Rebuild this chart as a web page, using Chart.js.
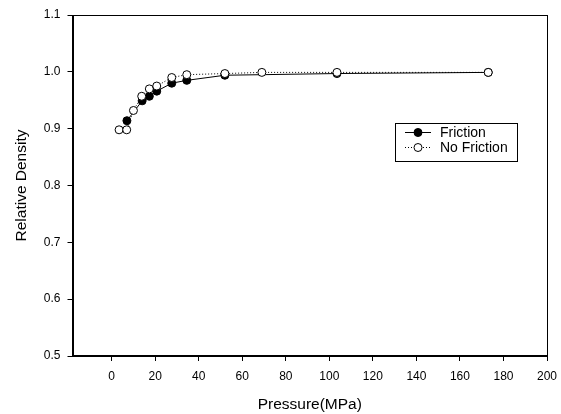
<!DOCTYPE html>
<html>
<head>
<meta charset="utf-8">
<script src="https://cdn.jsdelivr.net/npm/chart.js@4.4.1/dist/chart.umd.min.js"></script>
<style>
  html, body { margin: 0; padding: 0; background: #fff; }
</style>
</head>
<body>
<canvas id="densityChart" width="561" height="414"></canvas>
<script>
// values
const frictionPressure = [7, 14, 17.3, 20.7, 27.6, 34.5, 52, 103.5, 173];
const frictionDensity = [0.914, 0.949, 0.957, 0.966, 0.980, 0.985, 0.994, 0.997, 0.999];
const noFrictionPressure = [3.4, 6.9, 10, 13.8, 17.3, 20.7, 27.6, 34.5, 52, 69, 103.5, 173];
const noFrictionDensity = [0.898, 0.898, 0.932, 0.957, 0.970, 0.975, 0.990, 0.995, 0.997, 0.999, 0.999, 0.999];
const xTicks = [0, 20, 40, 60, 80, 100, 120, 140, 160, 180, 200];
const yTicks = [0.5, 0.6, 0.7, 0.8, 0.9, 1.0, 1.1];

const toPoints = (xs, ys) => xs.map((x, i) => ({ x: x, y: ys[i] }));

const FONT = 'Arial, "Liberation Sans", sans-serif';

// box round the plot area
const frame = {
    id: 'frame',
    afterDraw(chart) {
        const { ctx, chartArea: a } = chart;
        ctx.save();
        ctx.strokeStyle = '#000';
        ctx.lineWidth = 1;
        ctx.strokeRect(Math.round(a.left) + 0.5, Math.round(a.top) + 0.5,
            Math.round(a.right - a.left) - 1, Math.round(a.bottom - a.top) - 1);
        ctx.restore();
    }
};

// legend drawn inside the plot, like the original
const insideLegend = {
    id: 'insideLegend',
    afterDraw(chart) {
        const ctx = chart.ctx;
        const bx = 395, by = 123, bw = 122, bh = 38;
        ctx.save();
        ctx.fillStyle = '#fff';
        ctx.fillRect(bx, by, bw, bh);
        ctx.strokeStyle = '#000';
        ctx.lineWidth = 1;
        ctx.strokeRect(bx + 0.5, by + 0.5, bw, bh);
        chart.data.datasets.forEach((ds, i) => {
            const cy = by + 9 + i * 15;
            ctx.strokeStyle = '#000';
            ctx.setLineDash(ds.borderDash || []);
            ctx.beginPath();
            ctx.moveTo(405, cy + 0.5);
            ctx.lineTo(431, cy + 0.5);
            ctx.stroke();
            ctx.setLineDash([]);
            ctx.beginPath();
            ctx.arc(418, cy + 0.5, 4, 0, Math.PI * 2);
            ctx.fillStyle = ds.pointBackgroundColor;
            ctx.fill();
            ctx.stroke();
            ctx.fillStyle = '#000';
            ctx.font = '14px ' + FONT;
            ctx.textBaseline = 'middle';
            ctx.fillText(ds.label, 440, cy + 1);
        });
        ctx.restore();
    }
};

const ctx = document.getElementById('densityChart').getContext('2d');

const densityChart = new Chart(ctx, {
    type: 'scatter',
    data: {
        datasets: [{
            label: 'Friction',
            data: toPoints(frictionPressure, frictionDensity),
            showLine: true,
            borderColor: '#000',
            borderWidth: 1,
            pointBackgroundColor: '#000',
            pointBorderColor: '#000',
            pointBorderWidth: 1,
            pointRadius: 4,
            order: 2
        }, {
            label: 'No Friction',
            data: toPoints(noFrictionPressure, noFrictionDensity),
            showLine: true,
            borderColor: '#000',
            borderWidth: 1,
            borderDash: [1, 2],
            pointBackgroundColor: '#fff',
            pointBorderColor: '#000',
            pointBorderWidth: 1,
            pointRadius: 4,
            order: 1
        }]
    },
    options: {
        responsive: false,
        animation: false,
        layout: { padding: { top: 15, right: 14, left: 0, bottom: 0 } },
        plugins: {
            legend: { display: false },
            tooltip: { enabled: false }
        },
        scales: {
            x: {
                type: 'linear',
                min: -18,
                max: 200,
                afterBuildTicks: (scale) => { scale.ticks = xTicks.map(v => ({ value: v })); },
                afterFit: (scale) => {
                    scale.height = 58;
                    scale.paddingLeft = 0;
                    scale.paddingRight = 0;
                },
                grid: { drawOnChartArea: false, tickLength: 5, color: '#000' },
                border: { color: '#000' },
                ticks: {
                    color: '#000',
                    padding: 8,
                    maxRotation: 0,
                    autoSkip: false,
                    font: { family: FONT, size: 12 }
                },
                title: {
                    display: true,
                    text: 'Pressure(MPa)',
                    color: '#000',
                    padding: { top: 0, bottom: 0 },
                    font: { family: FONT, size: 15.5 }
                }
            },
            y: {
                min: 0.5,
                max: 1.1,
                afterBuildTicks: (scale) => { scale.ticks = yTicks.map(v => ({ value: v })); },
                afterFit: (scale) => {
                    scale.width = 72.5;
                    scale.paddingTop = 0;
                    scale.paddingBottom = 0;
                },
                grid: { drawOnChartArea: false, tickLength: 5, color: '#000' },
                border: { color: '#000' },
                ticks: {
                    color: '#000',
                    padding: 7,
                    autoSkip: false,
                    font: { family: FONT, size: 12 },
                    callback: (v) => Number(v).toFixed(1)
                },
                title: {
                    display: true,
                    text: 'Relative Density',
                    color: '#000',
                    padding: { top: 12, bottom: 0 },
                    font: { family: FONT, size: 15.5 }
                }
            }
        }
    },
    plugins: [frame, insideLegend]
});
</script>
</body>
</html>
